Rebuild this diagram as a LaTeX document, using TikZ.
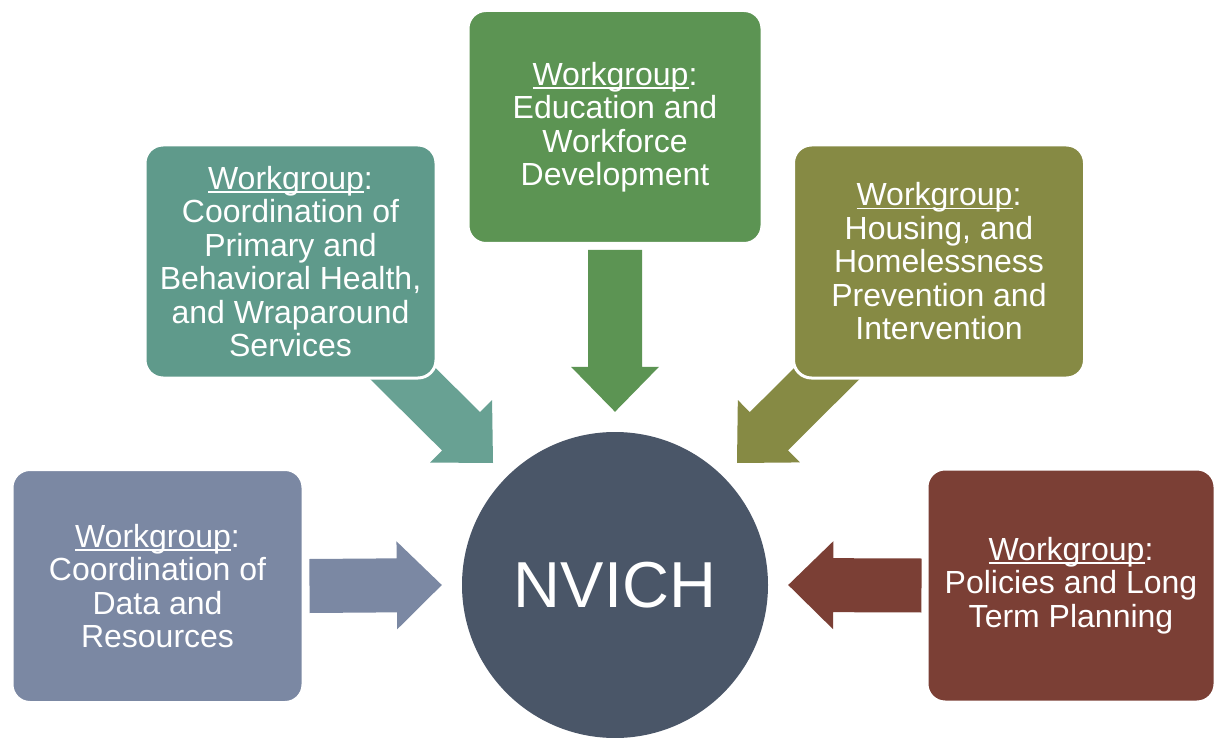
\documentclass[tikz,border=0pt]{standalone}
\usepackage{fontspec}
\setmainfont{Liberation Sans}
\usetikzlibrary{calc,backgrounds}
\definecolor{cdata}{HTML}{7B88A3}
\definecolor{cprim}{HTML}{5F9A8B}
\definecolor{cprimarr}{HTML}{68A193}
\definecolor{cedu}{HTML}{5C9453}
\definecolor{chous}{HTML}{868A44}
\definecolor{cpol}{HTML}{7B3F35}
\definecolor{chub}{HTML}{4A5668}
\newcommand\wglabel{\setbox0\hbox{Workgroup}\rlap{\rule[-3.5pt]{\wd0}{1.5pt}}\box0:}
\newcommand\blkarrow[3]{%
  \coordinate (H) at ($(#3)!45pt!(#2)$);
  \fill[#1] ($(#2)!27pt!90:(#3)$) -- ($(H)!27pt!90:(#3)$) -- ($(H)!44pt!90:(#3)$) -- (#3)
    -- ($(H)!44pt!-90:(#3)$) -- ($(H)!27pt!-90:(#3)$) -- ($(#2)!27pt!-90:(#3)$) -- cycle;}
\tikzset{
  wgbox/.style={draw=white, line width=3pt, rounded corners=18pt, text=white, align=center,
    font=\fontsize{32}{33.5}\selectfont, minimum width=291pt, minimum height=233pt, inner sep=0pt},
  hubnode/.style={circle, fill=chub, text=white, minimum size=306pt, inner sep=0pt,
    font=\fontsize{65}{70}\selectfont}
}
\begin{document}
\begin{tikzpicture}[x=1pt,y=-1pt]
\useasboundingbox (0,0) rectangle (1216,738);
\begin{pgfonlayer}{background}
\fill[white] (0,0) rectangle (1216,738);
\end{pgfonlayer}
\node[hubnode] (hub) at (615,585) {NVICH};
\node[wgbox, fill=cdata] (data) at (157.5,586) {\wglabel\\Coordination of\\Data and\\Resources};
\node[wgbox, fill=cprim] (prim) at (290.5,261.5) {\wglabel\\Coordination of\\Primary and\\Behavioral Health,\\and Wraparound\\Services};
\node[wgbox, fill=cedu, minimum width=294pt] (edu) at (615,127) {\wglabel\\Education and\\Workforce\\Development};
\node[wgbox, fill=chous] (hous) at (939,261.5) {\wglabel\\Housing, and\\Homelessness\\Prevention and\\Intervention};
\node[wgbox, fill=cpol, minimum width=288pt] (pol) at (1071,585.5) {\wglabel\\Policies and Long\\Term Planning};
\coordinate (dataA) at ($(data.east)+(5,0)$);
\coordinate (dataB) at ($(hub.west)+(-20,0)$);
\coordinate (polA) at ($(pol.west)+(-4,0)$);
\coordinate (polB) at ($(hub.east)+(20,0)$);
\coordinate (eduA) at ($(edu.south)+(0,5)$);
\coordinate (eduB) at ($(hub.north)+(0,-20)$);
\coordinate (primA) at ($(prim.south east)+(-73,-44)$);
\coordinate (primB) at ($(hub.center)+(-122,-122)$);
\coordinate (housA) at ($(hous.south west)+(73,-44)$);
\coordinate (housB) at ($(hub.center)+(122,-122)$);
\begin{pgfonlayer}{background}
\blkarrow{cdata}{dataA}{dataB}
\blkarrow{cpol}{polA}{polB}
\blkarrow{cedu}{eduA}{eduB}
\blkarrow{cprimarr}{primA}{primB}
\blkarrow{chous}{housA}{housB}
\end{pgfonlayer}
\end{tikzpicture}
\end{document}
